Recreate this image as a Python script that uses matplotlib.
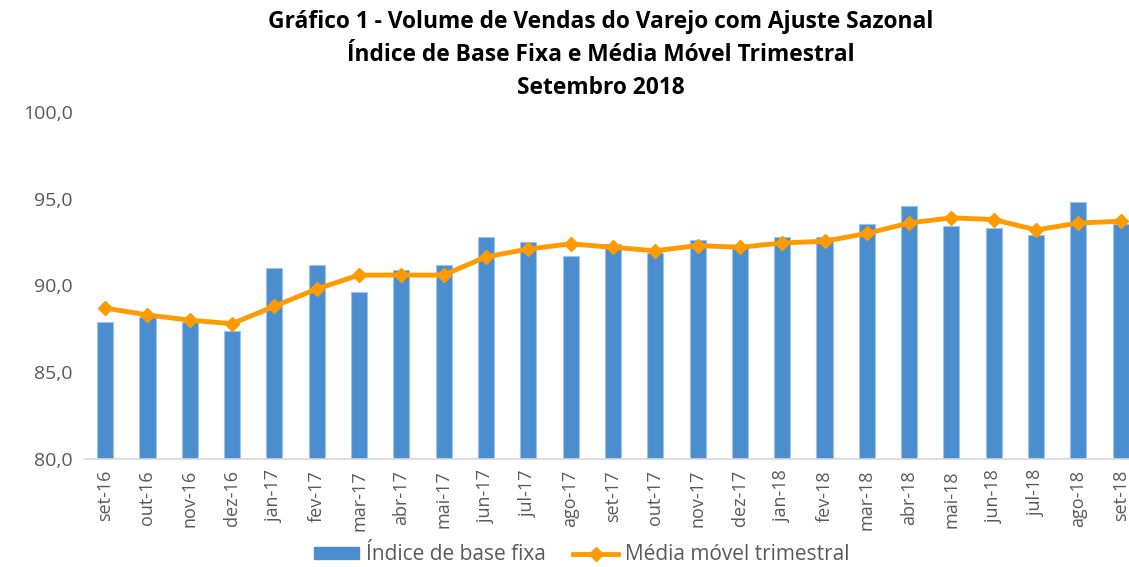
import numpy as np
from matplotlib import pyplot as plt
from matplotlib.lines import Line2D
from matplotlib.patches import Patch

plt.rcParams['font.family'] = ['Open Sans', 'DejaVu Sans']

meses = ["set-16", "out-16", "nov-16", "dez-16", "jan-17", "fev-17", "mar-17",
         "abr-17", "mai-17", "jun-17", "jul-17", "ago-17", "set-17", "out-17",
         "nov-17", "dez-17", "jan-18", "fev-18", "mar-18", "abr-18", "mai-18",
         "jun-18", "jul-18", "ago-18", "set-18"]
indice_base_fixa = [87.9, 88.2, 87.9, 87.4, 91.0, 91.2, 89.6, 90.9, 91.2, 92.8,
                    92.5, 91.7, 92.4, 91.85, 92.6, 92.2, 92.8, 92.8, 93.55, 94.6,
                    93.45, 93.3, 92.9, 94.8, 93.55]
media_movel = [88.7, 88.3, 88.0, 87.8, 88.8, 89.8, 90.6, 90.6, 90.6, 91.65,
               92.1, 92.4, 92.2, 92.0, 92.3, 92.2, 92.45, 92.55, 93.0, 93.6,
               93.9, 93.8, 93.2, 93.6, 93.7]
titulo = ("Gráfico 1 - Volume de Vendas do Varejo com Ajuste Sazonal\n"
          "Índice de Base Fixa e Média Móvel Trimestral\n"
          "Setembro 2018")

azul = "#4a8ed0"
laranja = "#ff9a00"
cinza = "#595959"

fig = plt.figure(figsize=(11.29, 5.67), dpi=100)
ax = fig.add_axes([0.0744, 0.1905, 0.937, 0.612])

x = np.arange(len(meses))
ax.bar(x, indice_base_fixa, width=0.38, color=azul, edgecolor="#9fc3e8",
       linewidth=0.8, zorder=2)
ax.plot(x, media_movel, color=laranja, linewidth=3.5, marker="D",
        markersize=7, zorder=3)

ax.set_ylim(80, 100)
ax.set_xlim(-0.5, len(meses) - 0.5)
ax.set_yticks([80, 85, 90, 95, 100])
ax.set_yticklabels([f"{v:.1f}".replace(".", ",") for v in [80, 85, 90, 95, 100]],
                   fontsize=14, color=cinza)
ax.set_xticks(x)
ax.set_xticklabels(meses, rotation=90, fontsize=13, color=cinza)
ax.tick_params(axis="both", length=0, pad=8)

for s in ["top", "right", "left"]:
    ax.spines[s].set_visible(False)
ax.spines["bottom"].set_color("#d9d9d9")
ax.spines["bottom"].set_linewidth(1.2)

fig.text(0.532, 0.982, titulo, ha="center", va="top", fontsize=16.4,
         fontweight="bold", linespacing=1.5)

handles = [Patch(facecolor=azul, edgecolor=azul),
           Line2D([0], [0], color=laranja, linewidth=3.5, marker="D", markersize=7)]
fig.legend(handles, ["Índice de base fixa", "Média móvel trimestral"],
           loc="lower center", bbox_to_anchor=(0.515, -0.03), ncol=2,
           frameon=False, fontsize=15, labelcolor=cinza,
           handlelength=2.2, handleheight=0.5, columnspacing=1.3, handletextpad=0.3)

fig.savefig("out.png", dpi=100)
